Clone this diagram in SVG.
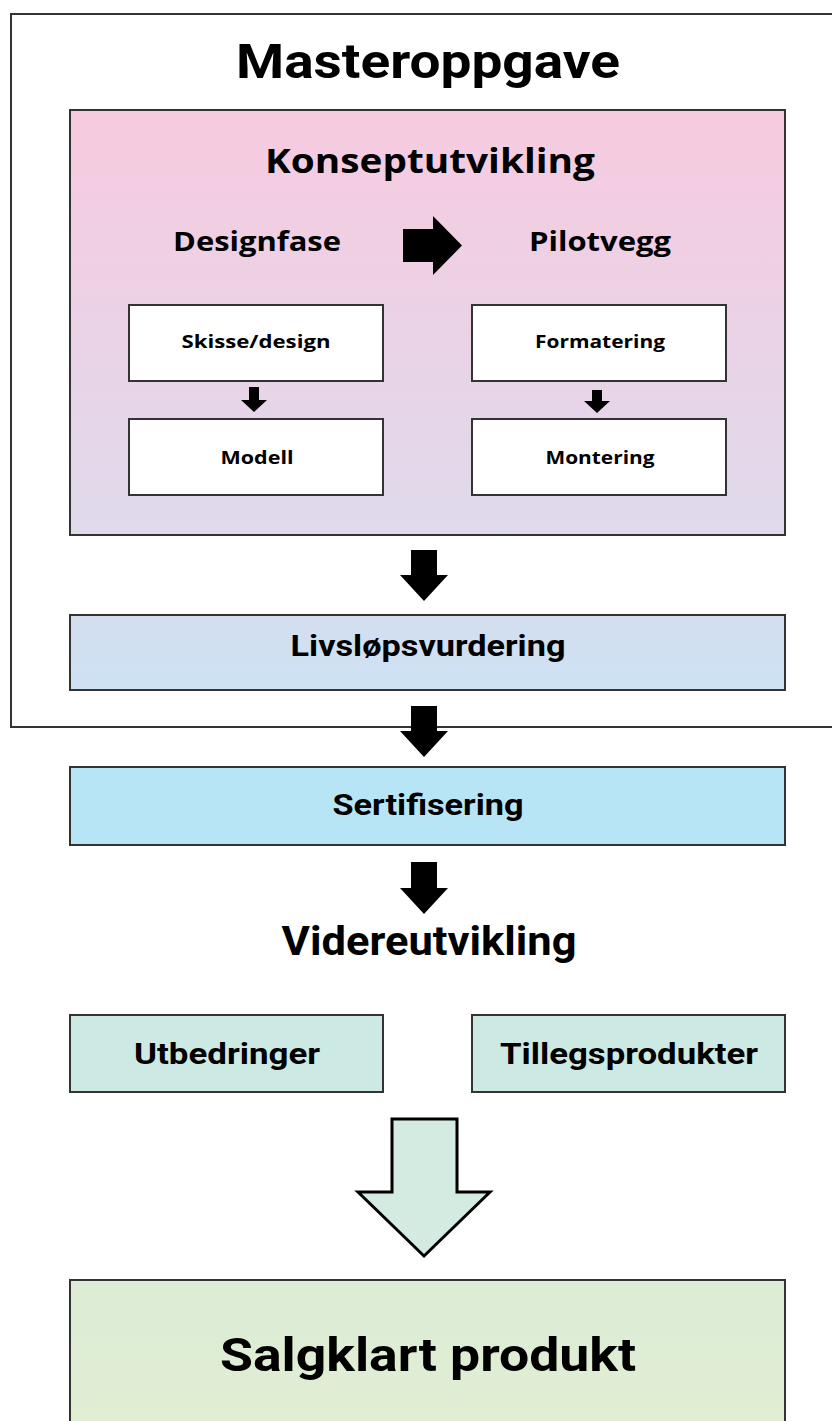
<svg xmlns="http://www.w3.org/2000/svg" width="832" height="1421" viewBox="0 0 832 1421">
<style>
.box{stroke:#333;stroke-width:2}
.wide{font-family:"Open Sans","DejaVu Sans",sans-serif;font-weight:bold;fill:#000}
.cond{font-family:"Roboto","Liberation Sans",sans-serif;font-weight:bold;fill:#000}
.arr{fill:#000}
</style>
<defs>
<linearGradient id="gPink" x1="0" y1="0" x2="0" y2="1">
<stop offset="0" stop-color="#f7cadf"/>
<stop offset="1" stop-color="#dfdaec"/>
</linearGradient>
<linearGradient id="gLiv" x1="0" y1="0" x2="0" y2="1">
<stop offset="0" stop-color="#d4deef"/>
<stop offset="1" stop-color="#cde2f4"/>
</linearGradient>
<linearGradient id="gSalg" x1="0" y1="0" x2="0" y2="1">
<stop offset="0" stop-color="#dcecd6"/>
<stop offset="1" stop-color="#e0eed2"/>
</linearGradient>
</defs>
<rect width="832" height="1421" fill="#fff"/>
<g id="masteroppgave">
<rect x="11" y="14" width="830" height="713" fill="none" stroke="#333" stroke-width="2"/>
<text x="428" y="78" class="cond" font-size="48" text-anchor="middle" textLength="384" lengthAdjust="spacingAndGlyphs">Masteroppgave</text>
</g>
<g id="konseptutvikling">
<rect class="box" x="70" y="110" width="715" height="425" fill="url(#gPink)"/>
<text x="430" y="173" class="wide" font-size="34" text-anchor="middle" textLength="330" lengthAdjust="spacingAndGlyphs">Konseptutvikling</text>
</g>
<g id="designfase">
<text x="257" y="251" class="wide" font-size="26" text-anchor="middle" textLength="168" lengthAdjust="spacingAndGlyphs">Designfase</text>
</g>
<g id="pilotvegg">
<text x="600" y="251" class="wide" font-size="26" text-anchor="middle" textLength="142" lengthAdjust="spacingAndGlyphs">Pilotvegg</text>
</g>
<g id="skisse">
<rect class="box" x="129" y="305" width="254" height="76" fill="#fff"/>
<text x="256" y="348" class="wide" font-size="17" text-anchor="middle" textLength="149" lengthAdjust="spacingAndGlyphs">Skisse/design</text>
</g>
<g id="formatering">
<rect class="box" x="472" y="305" width="254" height="76" fill="#fff"/>
<text x="600" y="348" class="wide" font-size="17" text-anchor="middle" textLength="130" lengthAdjust="spacingAndGlyphs">Formatering</text>
</g>
<g id="modell">
<rect class="box" x="129" y="419" width="254" height="76" fill="#fff"/>
<text x="257" y="464" class="wide" font-size="17" text-anchor="middle" textLength="73" lengthAdjust="spacingAndGlyphs">Modell</text>
</g>
<g id="montering">
<rect class="box" x="472" y="419" width="254" height="76" fill="#fff"/>
<text x="600" y="464" class="wide" font-size="17" text-anchor="middle" textLength="109" lengthAdjust="spacingAndGlyphs">Montering</text>
</g>
<g id="livslop">
<rect class="box" x="70" y="615" width="715" height="75" fill="url(#gLiv)"/>
<text x="428" y="656" class="cond" font-size="30" text-anchor="middle" textLength="275" lengthAdjust="spacingAndGlyphs">Livsløpsvurdering</text>
</g>
<g id="sertifisering">
<rect class="box" x="70" y="767" width="715" height="78" fill="#b8e5f6"/>
<text x="428" y="815" class="cond" font-size="30" text-anchor="middle" textLength="191" lengthAdjust="spacingAndGlyphs">Sertifisering</text>
</g>
<g id="videreutvikling">
<text x="429" y="955" class="cond" font-size="40" text-anchor="middle" textLength="295" lengthAdjust="spacingAndGlyphs">Videreutvikling</text>
</g>
<g id="utbedringer">
<rect class="box" x="70" y="1015" width="313" height="77" fill="#cde9e3"/>
<text x="227" y="1064" class="cond" font-size="30" text-anchor="middle" textLength="186" lengthAdjust="spacingAndGlyphs">Utbedringer</text>
</g>
<g id="tillegsprodukter">
<rect class="box" x="472" y="1015" width="313" height="77" fill="#cde9e3"/>
<text x="629" y="1064" class="cond" font-size="30" text-anchor="middle" textLength="258" lengthAdjust="spacingAndGlyphs">Tillegsprodukter</text>
</g>
<g id="salgklart">
<rect class="box" x="70" y="1280" width="715" height="150" fill="url(#gSalg)"/>
<text x="428" y="1371" class="cond" font-size="46" text-anchor="middle" textLength="416" lengthAdjust="spacingAndGlyphs">Salgklart produkt</text>
</g>
<g id="connectors">
<polygon class="arr" points="403,229 433,229 433,216 462,245.5 433,275 433,262 403,262"/>
<polygon class="arr" points="249,387 259,387 259,400 267,400 254,412 241,400 249,400"/>
<polygon class="arr" points="592,390 602,390 602,401 610,401 597,413 584,401 592,401"/>
<polygon class="arr" points="411,550 437,550 437,575 448,575 424,601 400,575 411,575"/>
<polygon class="arr" points="411,706 437,706 437,731 448,731 424,757 400,731 411,731"/>
<polygon class="arr" points="411,862 437,862 437,888 448,888 424,914 400,888 411,888"/>
<polygon points="392,1119 457,1119 457,1192 490,1192 424,1256 358,1192 392,1192" fill="#d3ebe0" stroke="#000" stroke-width="3"/>
</g>
</svg>
